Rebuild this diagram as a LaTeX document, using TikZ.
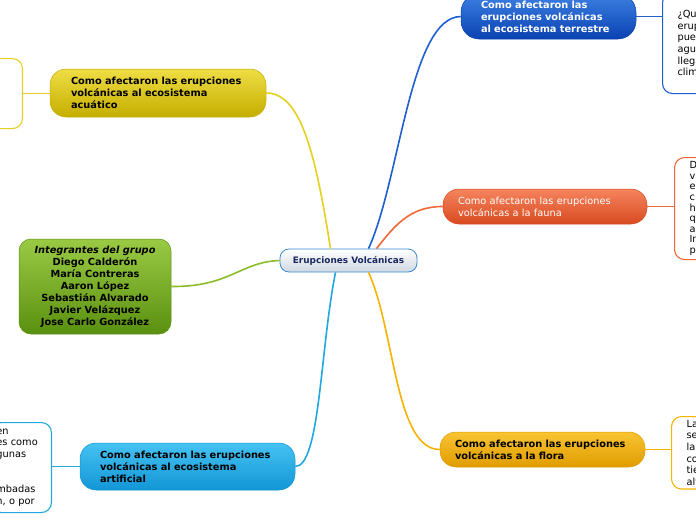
\documentclass[tikz,border=0pt]{standalone}
\usepackage{fontspec}
\setmainfont{DejaVu Sans}
\usepackage{tikz}
\usepackage{xcolor}
\usetikzlibrary{positioning}
\definecolor{ctrline}{HTML}{3A8AD0}
\definecolor{ctrbot}{HTML}{CFD8E2}
\definecolor{ctrink}{HTML}{1A2860}
\definecolor{terrtop}{HTML}{3C80E2}
\definecolor{terrbot}{HTML}{0A42B2}
\definecolor{terrline}{HTML}{1F5FD0}
\definecolor{faunatop}{HTML}{F5845E}
\definecolor{faunabot}{HTML}{D84A20}
\definecolor{faunaline}{HTML}{F06838}
\definecolor{floratop}{HTML}{F8C432}
\definecolor{florabot}{HTML}{E09C00}
\definecolor{floraline}{HTML}{F6B400}
\definecolor{arttop}{HTML}{46C2F2}
\definecolor{artbot}{HTML}{1296D6}
\definecolor{artline}{HTML}{22A8E0}
\definecolor{acuatop}{HTML}{EEDD44}
\definecolor{acuabot}{HTML}{C6AE00}
\definecolor{acualine}{HTML}{E6D022}
\definecolor{grptop}{HTML}{9ACA44}
\definecolor{grpbot}{HTML}{5A9010}
\definecolor{grpline}{HTML}{8CBC2A}
\tikzset{
  centerbox/.style={draw=ctrline,top color=white,bottom color=ctrbot,line width=0.8pt,
                    rounded corners=9pt,minimum width=137pt,minimum height=23pt,
                    text=ctrink,font=\fontsize{8.9}{11}\selectfont\bfseries},
  topicbox/.style={rounded corners=16pt,line width=0.5pt,minimum height=35pt,
                   inner xsep=15pt,align=left,font=\fontsize{9.8}{12}\selectfont\bfseries},
  notebox/.style={draw,fill=white,rounded corners=10pt,line width=1.1pt,
                  minimum width=80pt,text width=50pt,align=left,
                  font=\fontsize{9.8}{11.7}\selectfont},
  mainlink/.style={line width=1.6pt},
  sublink/.style={line width=0.7pt}
}

\begin{document}
\begin{tikzpicture}[x=1pt,y=-1pt]
  \useasboundingbox (0,0) rectangle (696,520);
  \fill[white] (0,0) rectangle (696,520);

  \node[centerbox] (erup) at (348.5,260.5) {Erupciones Volcánicas};

  \node[topicbox,top color=terrtop,bottom color=terrbot,draw=terrbot,text=white,
        text width=135pt,inner xsep=20pt,minimum height=45pt,rounded corners=18pt] (terr) at (548.5,16.5)
    {Como afectaron las\\erupciones volcánicas\\al ecosistema terrestre};
  \node[topicbox,top color=faunatop,bottom color=faunabot,draw=faunabot,text=white,
        font=\fontsize{9.8}{12}\selectfont,text width=174pt] (fauna) at (545,206.5)
    {Como afectaron las erupciones\\volcánicas a la fauna};
  \node[topicbox,top color=floratop,bottom color=florabot,draw=florabot,
        text width=175pt] (flora) at (542.5,449.5)
    {Como afectaron las erupciones\\volcánicas a la flora};
  \node[topicbox,top color=arttop,bottom color=artbot,draw=artbot,
        text width=175pt,inner xsep=20pt,minimum height=47pt] (artif) at (187.5,466.5)
    {Como afectaron las erupciones\\volcánicas al ecosistema\\artificial};
  \node[topicbox,top color=acuatop,bottom color=acuabot,draw=acuabot,
        text width=174pt,inner xsep=21pt,minimum height=48pt] (acua) at (158,93)
    {Como afectaron las erupciones\\volcánicas al ecosistema\\acuático};
  \node[topicbox,top color=grptop,bottom color=grpbot,draw=grpbot,align=center,
        minimum width=152pt,minimum height=95pt,rounded corners=12pt] (grp) at (95,286.5)
    {\textit{Integrantes del grupo}\\Diego Calderón\\María Contreras\\Aaron López\\Sebastián Alvarado\\Javier Velázquez\\Jose Carlo González};

  \node[notebox,draw=terrline,anchor=north west,minimum height=101pt] (terrnote) at (662,-8)
    {¿Que\\erup\\pued\\agua\\llega\\clima};
  \node[notebox,draw=faunaline,anchor=north west,minimum height=102pt,
        font=\fontsize{9.8}{10.6}\selectfont] (faunanote) at (674,157)
    {D\\v\\e\\c\\h\\q\\a\\In\\p};
  \node[notebox,draw=floraline,anchor=north west,minimum height=68pt] (floranote) at (671,416)
    {La\\se\\la\\co\\tie\\alt};
  \node[notebox,draw=artline,anchor=north east,minimum width=60pt,minimum height=90pt] (artnote) at (52,422)
    {en\\es como\\gunas\\ \mbox{}\\ \mbox{}\\ mbadas\\n, o por};
  \node[notebox,draw=acualine,anchor=north east,minimum width=60pt,minimum height=70pt] (acuanote) at (23,58) {};

  \draw[mainlink,draw=terrline] ([xshift=20pt]erup.north) .. controls (400,180) and (410,17) .. (terr.west);
  \draw[mainlink,draw=faunaline] ([xshift=28pt]erup.north) .. controls (395,225) and (410,206.5) .. (fauna.west);
  \draw[mainlink,draw=floraline] ([xshift=20pt]erup.south) .. controls (395,330) and (395,449.5) .. (flora.west);
  \draw[mainlink,draw=artline] ([xshift=-13pt]erup.south) .. controls (320,350) and (320,466.5) .. (artif.east);
  \draw[mainlink,draw=acualine] ([xshift=-18pt]erup.north) .. controls (315,150) and (300,93) .. (acua.east);
  \draw[mainlink,draw=grpline] (erup.west) .. controls (240,262) and (230,287) .. (grp.east);

  \draw[sublink,draw=terrline] (terr.east) -- (terrnote.west |- terr.east);
  \draw[sublink,draw=faunaline] (fauna.east) -- (faunanote.west |- fauna.east);
  \draw[sublink,draw=floraline] (flora.east) -- (floranote.west |- flora.east);
  \draw[sublink,draw=artline] (artif.west) -- (artnote.east |- artif.west);
  \draw[sublink,draw=acualine] (acua.west) -- (acuanote.east |- acua.west);
\end{tikzpicture}
\end{document}
